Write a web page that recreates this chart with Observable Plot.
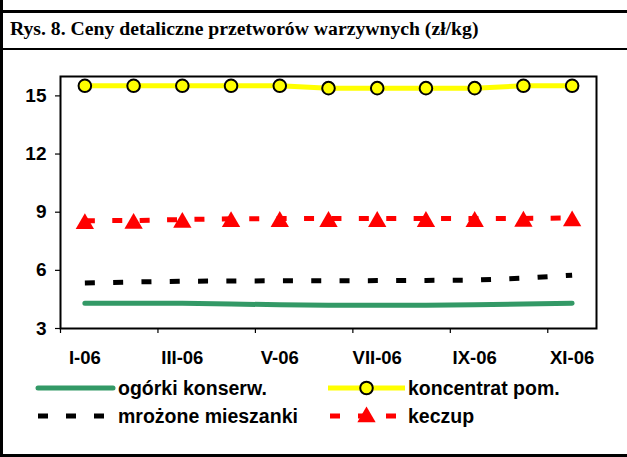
<!DOCTYPE html>
<html>
<head>
<meta charset="utf-8">
<script src="https://cdn.jsdelivr.net/npm/d3@7"></script>
<script src="https://cdn.jsdelivr.net/npm/@observablehq/plot@0.6"></script>
<style>
  html, body { margin: 0; padding: 0; background: #fff; }
  #wrap { position: relative; width: 627px; height: 457px; overflow: hidden; background: #fff; }
  .bar { position: absolute; background: #000; }
  #title { position: absolute; left: 10px; top: 19px; line-height: 1; font-family: "Liberation Serif", "Times New Roman", serif; font-weight: bold; font-size: 19.7px; color: #000; white-space: nowrap; }
  #chart { position: absolute; left: 0; top: 50px; }
  #legend { position: absolute; left: 0; top: 370px; }
</style>
</head>
<body>
<div id="wrap">
  <div class="bar" style="left:0;top:0;width:3px;height:457px"></div>
  <div class="bar" style="left:0;top:10px;width:627px;height:2.5px"></div>
  <div class="bar" style="left:0;top:47.5px;width:627px;height:2.5px"></div>
  <div class="bar" style="left:0;top:454px;width:627px;height:3px"></div>
  <div id="title">Rys. 8. Ceny detaliczne przetworów warzywnych (zł/kg)</div>
  <div id="chart"></div>
  <svg id="legend" width="627" height="70"></svg>
</div>
<script>
const months = ["I-06","II-06","III-06","IV-06","V-06","VI-06","VII-06","VIII-06","IX-06","X-06","XI-06"];
const ogorki = [4.3, 4.3, 4.3, 4.27, 4.22, 4.2, 4.2, 4.2, 4.22, 4.26, 4.3];
const koncentrat = [15.52, 15.52, 15.52, 15.52, 15.52, 15.4, 15.4, 15.4, 15.4, 15.52, 15.52];
const mrozone = [5.35, 5.4, 5.44, 5.45, 5.46, 5.46, 5.47, 5.48, 5.5, 5.6, 5.75];
const keczup = [8.56, 8.57, 8.62, 8.66, 8.67, 8.67, 8.67, 8.67, 8.67, 8.68, 8.7];
const yTicks = [3, 6, 9, 12, 15];
const seriesNames = ["ogórki konserw.", "koncentrat pom.", "mrożone mieszanki", "keczup"];

const rows = months.map((m, i) => ({
  x: i + 1, month: m,
  ogorki: ogorki[i], koncentrat: koncentrat[i], mrozone: mrozone[i], keczup: keczup[i]
}));
const labelTicks = d3.range(1, months.length + 1, 2);
const boundaryTicks = d3.range(0, months.length, 2).map(i => i + 0.5);

const sans = "'Liberation Sans', Arial, sans-serif";

const chart = Plot.plot({
  width: 627,
  height: 330,
  marginLeft: 60,
  marginRight: 31,
  marginTop: 26,
  marginBottom: 52,
  style: { background: "transparent", overflow: "visible" },
  x: { type: "linear", domain: [0.5, months.length + 0.5] },
  y: { domain: [3, 16] },
  marks: [
    Plot.axisY({ ticks: yTicks, tickSize: 5, tickFormat: d => String(d), stroke: "#000", strokeWidth: 1.2, text: null, label: null }),
    Plot.text(yTicks, { x: 0.5, y: d => d, text: d => String(d), textAnchor: "end", dx: -14, fontSize: 19, fontWeight: "bold", fontFamily: sans, fill: "#000" }),
    Plot.axisX({ ticks: boundaryTicks, tickSize: 5, tickFormat: () => "", stroke: "#000", strokeWidth: 1.2, label: null }),
    Plot.axisX({ ticks: labelTicks, tickSize: 0, tickPadding: 22, tickFormat: d => months[d - 1], fontSize: 18.5, fontWeight: "bold", fontFamily: sans, fill: "#000", label: null }),
    Plot.line(rows, { x: "x", y: "ogorki", stroke: "#339966", strokeWidth: 5, strokeLinecap: "round" }),
    Plot.line(rows, { x: "x", y: "mrozone", stroke: "#000", strokeWidth: 5, strokeDasharray: "10,18.3", strokeLinecap: "butt" }),
    Plot.line(rows, { x: "x", y: "koncentrat", stroke: "#FFFF00", strokeWidth: 5 }),
    Plot.dot(rows, { x: "x", y: "koncentrat", r: 6.3, fill: "#FFFF00", stroke: "#000", strokeWidth: 2 }),
    Plot.line(rows, { x: "x", y: "keczup", stroke: "#FF0000", strokeWidth: 5, strokeDasharray: "10,17.4", strokeLinecap: "butt" }),
    Plot.dot(rows, { x: "x", y: "keczup", symbol: "triangle", r: 6.8, fill: "#FF0000", stroke: "none", dy: 3 }),
    Plot.frame({ stroke: "#000", strokeWidth: 2 })
  ]
});
document.getElementById("chart").appendChild(chart);

// Legend
const lg = d3.select("#legend");
const rowY = [18, 46];
const items = [
  { name: seriesNames[0], col: 0, row: 0, kind: "green" },
  { name: seriesNames[1], col: 1, row: 0, kind: "yellow" },
  { name: seriesNames[2], col: 0, row: 1, kind: "black" },
  { name: seriesNames[3], col: 1, row: 1, kind: "red" }
];
const colX = [38, 328];
items.forEach(it => {
  const x0 = colX[it.col], x1 = x0 + 75, y = rowY[it.row];
  const g = lg.append("g");
  if (it.kind === "green") {
    g.append("line").attr("x1", x0).attr("x2", x1).attr("y1", y).attr("y2", y).attr("stroke", "#339966").attr("stroke-width", 5).attr("stroke-linecap", "round");
  } else if (it.kind === "yellow") {
    g.append("line").attr("x1", x0).attr("x2", x1 + 2).attr("y1", y).attr("y2", y).attr("stroke", "#FFFF00").attr("stroke-width", 5);
    g.append("circle").attr("cx", (x0 + x1) / 2 + 1).attr("cy", y).attr("r", 6.3).attr("fill", "#FFFF00").attr("stroke", "#000").attr("stroke-width", 2);
  } else if (it.kind === "black") {
    g.append("line").attr("x1", x0).attr("x2", x1 - 6).attr("y1", y).attr("y2", y).attr("stroke", "#000").attr("stroke-width", 5).attr("stroke-dasharray", "10,18");
  } else {
    g.append("line").attr("x1", x0 + 2).attr("x2", x1 - 6).attr("y1", y).attr("y2", y).attr("stroke", "#FF0000").attr("stroke-width", 5).attr("stroke-dasharray", "10,18");
    g.append("path").attr("d", d3.symbol(d3.symbolTriangle, Math.PI * 6.8 * 6.8)()).attr("transform", `translate(${(x0 + x1) / 2 + 1},${y + 1})`).attr("fill", "#FF0000");
  }
  g.append("text").attr("x", x1 + 5).attr("y", y + 7).attr("font-family", sans).attr("font-weight", "bold").attr("font-size", 19.5).attr("fill", "#000").text(it.name);
});
</script>
</body>
</html>
